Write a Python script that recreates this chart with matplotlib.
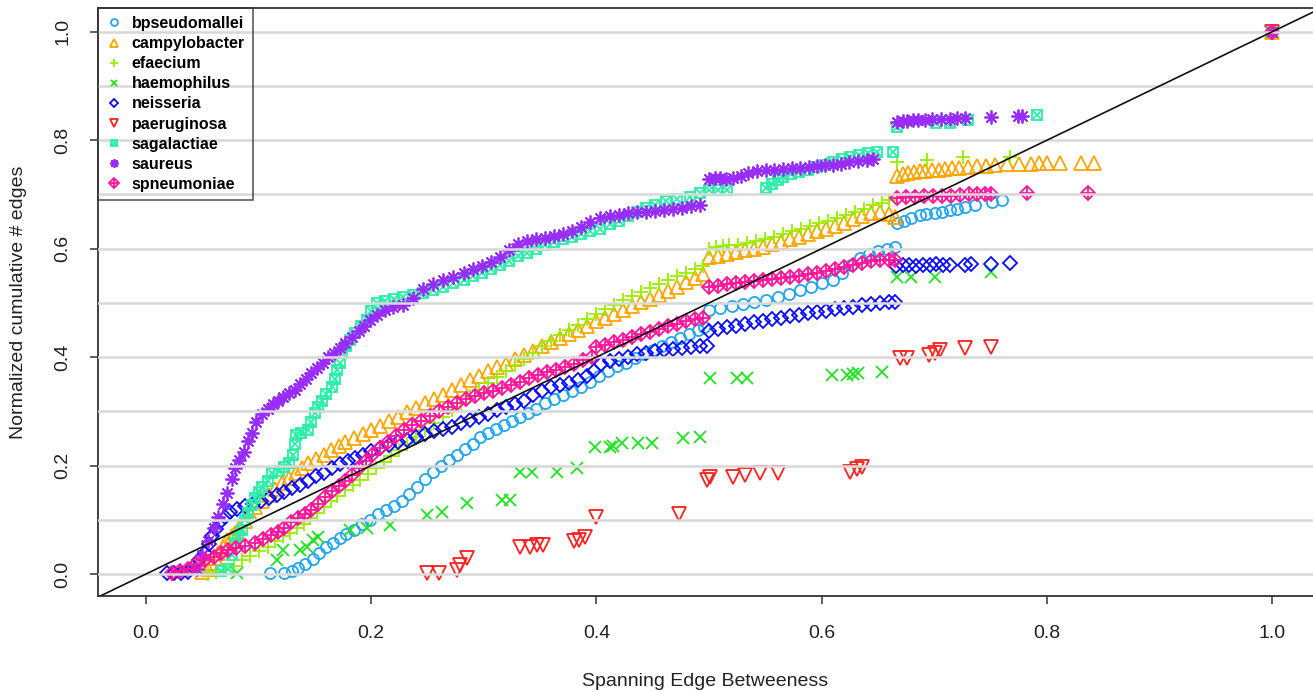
import numpy as np
import matplotlib
matplotlib.use("Agg")
from matplotlib import pyplot as plt
from matplotlib.legend_handler import HandlerTuple

plt.rcParams['font.family'] = ['Liberation Sans', 'DejaVu Sans']

# (spanning edge betweenness, normalized cumulative # edges)
bpseudomallei = [
    (0.110, 0.002), (0.123, 0.002), (0.130, 0.005), (0.135, 0.011), (0.141, 0.018),
    (0.148, 0.028), (0.154, 0.038), (0.160, 0.050), (0.166, 0.058), (0.172, 0.066),
    (0.178, 0.074), (0.185, 0.082), (0.192, 0.092), (0.199, 0.100), (0.206, 0.110),
    (0.213, 0.118), (0.220, 0.125), (0.227, 0.135), (0.234, 0.148), (0.241, 0.160),
    (0.248, 0.175), (0.255, 0.188), (0.262, 0.200), (0.269, 0.210), (0.276, 0.220),
    (0.283, 0.230), (0.290, 0.240), (0.297, 0.252), (0.304, 0.260), (0.311, 0.267),
    (0.318, 0.275), (0.325, 0.282), (0.332, 0.290), (0.339, 0.297), (0.346, 0.305),
    (0.354, 0.315), (0.362, 0.323), (0.370, 0.330), (0.378, 0.338), (0.386, 0.345),
    (0.394, 0.355), (0.402, 0.365), (0.410, 0.375), (0.418, 0.383), (0.426, 0.390),
    (0.434, 0.398), (0.442, 0.406), (0.450, 0.414), (0.458, 0.421), (0.466, 0.428),
    (0.474, 0.436), (0.482, 0.443), (0.490, 0.450), (0.496, 0.455),
    (0.500, 0.487), (0.510, 0.490), (0.520, 0.494), (0.530, 0.498), (0.540, 0.502),
    (0.551, 0.506), (0.561, 0.511), (0.571, 0.517), (0.581, 0.523), (0.591, 0.530),
    (0.600, 0.536), (0.610, 0.543), (0.618, 0.556), (0.626, 0.570), (0.634, 0.582),
    (0.642, 0.590), (0.650, 0.595), (0.658, 0.600), (0.665, 0.603),
    (0.667, 0.648), (0.673, 0.652), (0.679, 0.657), (0.687, 0.662), (0.693, 0.664),
    (0.701, 0.666), (0.707, 0.668), (0.714, 0.672), (0.720, 0.674), (0.727, 0.677),
    (0.736, 0.681), (0.751, 0.686), (0.760, 0.690), (1.000, 1.000),
]

campylobacter = [
    (0.050, 0.004), (0.055, 0.010), (0.058, 0.020), (0.061, 0.030), (0.064, 0.039),
    (0.068, 0.050), (0.072, 0.062), (0.076, 0.070), (0.079, 0.075), (0.083, 0.085),
    (0.088, 0.097), (0.092, 0.110), (0.097, 0.124), (0.103, 0.135), (0.109, 0.146),
    (0.115, 0.157), (0.121, 0.168), (0.127, 0.177), (0.133, 0.187), (0.139, 0.196),
    (0.144, 0.205), (0.151, 0.213), (0.158, 0.220), (0.164, 0.228), (0.171, 0.236),
    (0.177, 0.243), (0.185, 0.250), (0.193, 0.258), (0.200, 0.265), (0.208, 0.273),
    (0.216, 0.282), (0.224, 0.290), (0.232, 0.298), (0.240, 0.306), (0.248, 0.315),
    (0.256, 0.323), (0.264, 0.331), (0.272, 0.339), (0.280, 0.348), (0.288, 0.357),
    (0.296, 0.366), (0.304, 0.374), (0.312, 0.381), (0.320, 0.388), (0.328, 0.396),
    (0.336, 0.404), (0.344, 0.412), (0.352, 0.420), (0.360, 0.428), (0.368, 0.435),
    (0.376, 0.442), (0.384, 0.450), (0.392, 0.457), (0.400, 0.466), (0.408, 0.473),
    (0.416, 0.480), (0.424, 0.487), (0.432, 0.494), (0.440, 0.501), (0.448, 0.508),
    (0.456, 0.515), (0.464, 0.522), (0.472, 0.530), (0.480, 0.538), (0.488, 0.546),
    (0.495, 0.553),
    (0.500, 0.585), (0.508, 0.587), (0.516, 0.590), (0.524, 0.594), (0.532, 0.597),
    (0.540, 0.600), (0.548, 0.604), (0.556, 0.608), (0.564, 0.612), (0.572, 0.617),
    (0.580, 0.622), (0.588, 0.627), (0.596, 0.632), (0.604, 0.637), (0.612, 0.642),
    (0.620, 0.648), (0.628, 0.654), (0.636, 0.660), (0.644, 0.666), (0.652, 0.668),
    (0.660, 0.664), (0.665, 0.658),
    (0.667, 0.735), (0.672, 0.738), (0.677, 0.740), (0.682, 0.742), (0.687, 0.743),
    (0.692, 0.744), (0.698, 0.745), (0.704, 0.746), (0.710, 0.747), (0.716, 0.748),
    (0.722, 0.749), (0.730, 0.750), (0.738, 0.752), (0.746, 0.752), (0.754, 0.754),
    (0.765, 0.756), (0.775, 0.757), (0.786, 0.757), (0.793, 0.758), (0.800, 0.758),
    (0.812, 0.758), (0.830, 0.758), (0.842, 0.758), (1.000, 1.000),
]

efaecium = [
    (0.055, 0.000), (0.062, 0.003), (0.070, 0.008), (0.078, 0.015), (0.085, 0.026),
    (0.092, 0.033), (0.100, 0.042), (0.108, 0.050), (0.115, 0.060), (0.122, 0.070),
    (0.128, 0.076), (0.134, 0.084), (0.140, 0.093), (0.146, 0.103), (0.152, 0.113),
    (0.158, 0.124), (0.164, 0.134), (0.170, 0.144), (0.177, 0.155), (0.184, 0.165),
    (0.190, 0.174), (0.197, 0.185), (0.204, 0.196), (0.211, 0.207), (0.218, 0.218),
    (0.225, 0.229), (0.232, 0.240), (0.240, 0.252), (0.248, 0.265), (0.256, 0.278),
    (0.264, 0.290), (0.272, 0.303), (0.280, 0.315), (0.288, 0.328), (0.296, 0.340),
    (0.304, 0.352), (0.312, 0.363), (0.320, 0.374), (0.328, 0.385), (0.336, 0.396),
    (0.344, 0.408), (0.352, 0.420), (0.360, 0.430), (0.368, 0.440), (0.376, 0.450),
    (0.384, 0.460), (0.392, 0.470), (0.400, 0.480), (0.408, 0.488), (0.416, 0.496),
    (0.424, 0.505), (0.432, 0.513), (0.440, 0.520), (0.448, 0.528), (0.456, 0.535),
    (0.464, 0.543), (0.472, 0.550), (0.480, 0.556), (0.488, 0.562), (0.495, 0.568),
    (0.500, 0.600), (0.506, 0.603), (0.512, 0.605), (0.518, 0.606), (0.526, 0.607),
    (0.534, 0.610), (0.542, 0.614), (0.550, 0.618), (0.558, 0.622), (0.566, 0.627),
    (0.574, 0.632), (0.582, 0.637), (0.590, 0.642), (0.598, 0.647), (0.606, 0.652),
    (0.614, 0.657), (0.622, 0.662), (0.630, 0.668), (0.638, 0.674), (0.646, 0.680),
    (0.654, 0.685), (0.660, 0.690),
    (0.667, 0.760), (0.694, 0.764), (0.726, 0.770), (0.767, 0.770), (1.000, 1.000),
]

haemophilus = [
    (0.081, 0.002), (0.116, 0.026), (0.122, 0.044), (0.137, 0.044), (0.143, 0.050),
    (0.148, 0.063), (0.153, 0.068), (0.181, 0.081), (0.196, 0.085), (0.217, 0.090),
    (0.250, 0.109), (0.263, 0.114), (0.285, 0.131), (0.316, 0.137), (0.323, 0.137),
    (0.332, 0.188), (0.343, 0.188), (0.365, 0.188), (0.383, 0.195), (0.399, 0.234),
    (0.412, 0.234), (0.415, 0.236), (0.423, 0.242), (0.437, 0.242), (0.449, 0.242),
    (0.477, 0.251), (0.492, 0.253), (0.501, 0.362), (0.525, 0.362), (0.534, 0.362),
    (0.609, 0.367), (0.623, 0.367), (0.628, 0.369), (0.632, 0.371), (0.654, 0.373),
    (0.667, 0.548), (0.679, 0.548), (0.701, 0.548), (0.750, 0.557), (1.000, 1.000),
]

neisseria = [
    (0.019, 0.002), (0.025, 0.002), (0.031, 0.002), (0.037, 0.003), (0.042, 0.012),
    (0.047, 0.025), (0.052, 0.039), (0.056, 0.055), (0.059, 0.070), (0.062, 0.083),
    (0.066, 0.095), (0.070, 0.106), (0.075, 0.115), (0.081, 0.120), (0.088, 0.125),
    (0.095, 0.130), (0.102, 0.135), (0.109, 0.140), (0.116, 0.146), (0.123, 0.152),
    (0.130, 0.158), (0.137, 0.165), (0.144, 0.172), (0.151, 0.180), (0.158, 0.187),
    (0.165, 0.195), (0.172, 0.202), (0.179, 0.208), (0.186, 0.214), (0.193, 0.220),
    (0.200, 0.226), (0.208, 0.232), (0.216, 0.238), (0.224, 0.243), (0.232, 0.248),
    (0.240, 0.253), (0.248, 0.258), (0.256, 0.263), (0.264, 0.267), (0.272, 0.272),
    (0.280, 0.278), (0.288, 0.284), (0.296, 0.290), (0.304, 0.296), (0.312, 0.302),
    (0.320, 0.308), (0.328, 0.314), (0.336, 0.320), (0.344, 0.330), (0.352, 0.338),
    (0.360, 0.344), (0.368, 0.348), (0.376, 0.352), (0.384, 0.357), (0.392, 0.365),
    (0.398, 0.375), (0.404, 0.387), (0.412, 0.392), (0.420, 0.397), (0.428, 0.401),
    (0.436, 0.405), (0.444, 0.408), (0.452, 0.411), (0.460, 0.413), (0.468, 0.415),
    (0.476, 0.417), (0.484, 0.419), (0.492, 0.420), (0.498, 0.421),
    (0.500, 0.448), (0.508, 0.452), (0.516, 0.455), (0.524, 0.458), (0.532, 0.461),
    (0.540, 0.464), (0.548, 0.467), (0.556, 0.470), (0.564, 0.473), (0.572, 0.476),
    (0.580, 0.478), (0.588, 0.481), (0.596, 0.483), (0.604, 0.486), (0.612, 0.488),
    (0.620, 0.491), (0.628, 0.493), (0.636, 0.496), (0.644, 0.498), (0.652, 0.500),
    (0.660, 0.501), (0.665, 0.502),
    (0.666, 0.568), (0.672, 0.570), (0.678, 0.570), (0.684, 0.569), (0.690, 0.570),
    (0.696, 0.570), (0.702, 0.571), (0.708, 0.570), (0.714, 0.570), (0.727, 0.570),
    (0.733, 0.571), (0.750, 0.571), (0.767, 0.574), (1.000, 1.000),
]

paeruginosa = [
    (0.250, 0.002), (0.260, 0.002), (0.276, 0.007), (0.279, 0.017), (0.285, 0.030),
    (0.332, 0.050), (0.341, 0.050), (0.347, 0.053), (0.353, 0.053), (0.380, 0.060),
    (0.385, 0.063), (0.390, 0.068), (0.400, 0.105), (0.473, 0.110), (0.498, 0.173),
    (0.501, 0.179), (0.521, 0.179), (0.532, 0.183), (0.545, 0.186), (0.561, 0.186),
    (0.625, 0.188), (0.631, 0.194), (0.636, 0.197), (0.670, 0.399), (0.676, 0.399),
    (0.695, 0.404), (0.701, 0.408), (0.705, 0.413), (0.727, 0.417), (0.750, 0.419),
    (1.000, 1.000),
]

sagalactiae = [
    (0.067, 0.005), (0.073, 0.010), (0.076, 0.035), (0.079, 0.057), (0.082, 0.070),
    (0.085, 0.082), (0.088, 0.100), (0.091, 0.113), (0.094, 0.127), (0.097, 0.140),
    (0.100, 0.152), (0.103, 0.161), (0.108, 0.172), (0.112, 0.186), (0.118, 0.190),
    (0.123, 0.197), (0.127, 0.205), (0.131, 0.220), (0.132, 0.240), (0.133, 0.256),
    (0.138, 0.260), (0.144, 0.266), (0.147, 0.280), (0.150, 0.297), (0.153, 0.308),
    (0.156, 0.320), (0.160, 0.332), (0.165, 0.345), (0.168, 0.360), (0.170, 0.376),
    (0.172, 0.390), (0.174, 0.408), (0.178, 0.420), (0.181, 0.432), (0.186, 0.445),
    (0.191, 0.458), (0.196, 0.469), (0.200, 0.485), (0.205, 0.500), (0.212, 0.504),
    (0.220, 0.508), (0.228, 0.511), (0.237, 0.514), (0.246, 0.518), (0.255, 0.524),
    (0.264, 0.530), (0.273, 0.536), (0.282, 0.542), (0.290, 0.550), (0.298, 0.556),
    (0.306, 0.563), (0.314, 0.570), (0.322, 0.578), (0.330, 0.586), (0.338, 0.593),
    (0.346, 0.600), (0.354, 0.607), (0.362, 0.613), (0.370, 0.618), (0.378, 0.622),
    (0.386, 0.627), (0.394, 0.632), (0.403, 0.637), (0.412, 0.645), (0.420, 0.652),
    (0.428, 0.660), (0.436, 0.668), (0.444, 0.675), (0.452, 0.680), (0.462, 0.688),
    (0.472, 0.692), (0.483, 0.696), (0.492, 0.702), (0.500, 0.708), (0.508, 0.708),
    (0.516, 0.708),
    (0.551, 0.712), (0.556, 0.720), (0.561, 0.726), (0.566, 0.733), (0.573, 0.737),
    (0.580, 0.741), (0.588, 0.746), (0.596, 0.751), (0.603, 0.755), (0.610, 0.760),
    (0.618, 0.765), (0.625, 0.770), (0.633, 0.773), (0.641, 0.776), (0.649, 0.779),
    (0.663, 0.779),
    (0.667, 0.825), (0.702, 0.832), (0.714, 0.832), (0.730, 0.838), (0.791, 0.847),
    (1.000, 1.000),
]

saureus = [
    (0.045, 0.010), (0.050, 0.035), (0.055, 0.060), (0.060, 0.085), (0.064, 0.105),
    (0.068, 0.130), (0.072, 0.150), (0.076, 0.175), (0.079, 0.195), (0.083, 0.210),
    (0.087, 0.225), (0.091, 0.245), (0.094, 0.260), (0.098, 0.280), (0.103, 0.295),
    (0.108, 0.305), (0.113, 0.313), (0.117, 0.320), (0.122, 0.327), (0.127, 0.333),
    (0.132, 0.340), (0.137, 0.350), (0.142, 0.360), (0.147, 0.370), (0.152, 0.380),
    (0.157, 0.390), (0.162, 0.400), (0.167, 0.408), (0.172, 0.417), (0.177, 0.426),
    (0.183, 0.437), (0.189, 0.448), (0.194, 0.458), (0.199, 0.468), (0.205, 0.478),
    (0.212, 0.487), (0.219, 0.492), (0.228, 0.497), (0.237, 0.510), (0.246, 0.525),
    (0.255, 0.535), (0.264, 0.542), (0.273, 0.548), (0.282, 0.555), (0.290, 0.562),
    (0.298, 0.568), (0.306, 0.575), (0.314, 0.585), (0.322, 0.597), (0.330, 0.608),
    (0.338, 0.614), (0.346, 0.617), (0.354, 0.620), (0.362, 0.623), (0.370, 0.627),
    (0.378, 0.632), (0.386, 0.640), (0.394, 0.650), (0.403, 0.657), (0.412, 0.660),
    (0.420, 0.663), (0.428, 0.665), (0.436, 0.667), (0.444, 0.668), (0.452, 0.670),
    (0.460, 0.672), (0.468, 0.674), (0.476, 0.676), (0.484, 0.678), (0.492, 0.680),
    (0.500, 0.728), (0.505, 0.730), (0.510, 0.730), (0.515, 0.728), (0.521, 0.730),
    (0.528, 0.735), (0.535, 0.740), (0.543, 0.743), (0.551, 0.745), (0.558, 0.746),
    (0.566, 0.747), (0.574, 0.748), (0.581, 0.749), (0.589, 0.751), (0.596, 0.752),
    (0.603, 0.754), (0.610, 0.755), (0.617, 0.757), (0.624, 0.760), (0.632, 0.762),
    (0.640, 0.764), (0.646, 0.765),
    (0.667, 0.834), (0.672, 0.836), (0.676, 0.836), (0.681, 0.838), (0.686, 0.838),
    (0.692, 0.838), (0.698, 0.840), (0.706, 0.840), (0.714, 0.840), (0.720, 0.842),
    (0.727, 0.842), (0.750, 0.843), (0.774, 0.845), (0.778, 0.845), (1.000, 1.000),
]

spneumoniae = [
    (0.023, 0.002), (0.030, 0.005), (0.037, 0.010), (0.044, 0.018), (0.052, 0.025),
    (0.060, 0.032), (0.067, 0.038), (0.073, 0.044), (0.080, 0.048), (0.088, 0.052),
    (0.097, 0.057), (0.104, 0.064), (0.111, 0.071), (0.117, 0.077), (0.123, 0.085),
    (0.129, 0.095), (0.135, 0.104), (0.141, 0.110), (0.147, 0.118), (0.153, 0.130),
    (0.159, 0.142), (0.165, 0.153), (0.171, 0.163), (0.177, 0.172), (0.183, 0.183),
    (0.189, 0.196), (0.195, 0.208), (0.201, 0.220), (0.208, 0.232), (0.215, 0.243),
    (0.222, 0.255), (0.229, 0.266), (0.236, 0.275), (0.244, 0.283), (0.252, 0.292),
    (0.260, 0.300), (0.268, 0.308), (0.276, 0.316), (0.284, 0.323), (0.292, 0.328),
    (0.300, 0.333), (0.308, 0.338), (0.316, 0.343), (0.324, 0.349), (0.332, 0.355),
    (0.340, 0.362), (0.348, 0.367), (0.356, 0.372), (0.364, 0.377), (0.372, 0.382),
    (0.380, 0.388), (0.388, 0.394), (0.396, 0.400),
    (0.400, 0.418), (0.408, 0.423), (0.416, 0.428), (0.424, 0.432), (0.432, 0.437),
    (0.440, 0.442), (0.448, 0.447), (0.456, 0.452), (0.464, 0.457), (0.472, 0.462),
    (0.480, 0.466), (0.488, 0.470), (0.495, 0.472),
    (0.500, 0.530), (0.508, 0.532), (0.516, 0.534), (0.524, 0.536), (0.532, 0.538),
    (0.540, 0.540), (0.548, 0.542), (0.556, 0.544), (0.564, 0.546), (0.572, 0.548),
    (0.580, 0.550), (0.588, 0.553), (0.596, 0.556), (0.604, 0.559), (0.612, 0.562),
    (0.620, 0.566), (0.628, 0.570), (0.636, 0.574), (0.644, 0.577), (0.652, 0.579),
    (0.660, 0.580), (0.665, 0.580),
    (0.667, 0.694), (0.675, 0.695), (0.683, 0.696), (0.691, 0.697), (0.699, 0.697),
    (0.707, 0.698), (0.715, 0.698), (0.723, 0.699), (0.731, 0.700), (0.738, 0.700),
    (0.745, 0.700), (0.750, 0.700), (0.782, 0.703), (0.837, 0.703), (1.000, 1.000),
]

names = ["bpseudomallei", "campylobacter", "efaecium", "haemophilus", "neisseria",
         "paeruginosa", "sagalactiae", "saureus", "spneumoniae"]
series = [bpseudomallei, campylobacter, efaecium, haemophilus, neisseria,
          paeruginosa, sagalactiae, saureus, spneumoniae]
colors = ["#22A5F0", "#FFA500", "#9AEE00", "#1FE31F", "#0A0AFF",
          "#FF2020", "#2BEEA8", "#9A2BFF", "#FF149B"]
# R pch 1..9 equivalents; several symbols are drawn on top of each other
markers = [[("o", 8)], [("^", 9.5)], [("+", 9.5)], [("x", 8)], [("D", 7)],
           [("v", 9.5)], [("s", 7.5), ("x", 7.5)], [((8, 2, 0), 10)],
           [("D", 7.5), ("+", 9.5)]]

fig = plt.figure(figsize=(13.13, 6.92), dpi=100)
ax = fig.add_axes([98 / 1313, 96 / 692, 1215 / 1313, 588 / 692])

handles = []
for name, pts, col, mk in zip(names, series, colors, markers):
    arr = np.array(pts)
    parts = []
    for m, ms in mk:
        ln, = ax.plot(arr[:, 0], arr[:, 1], linestyle="none", marker=m,
                      markersize=ms, markerfacecolor="none",
                      markeredgecolor=col, markeredgewidth=1.3, zorder=2)
        parts.append(ln)
    handles.append(tuple(parts))

# light horizontal grid, drawn over the points like the original
for g in np.arange(0.0, 1.01, 0.1):
    ax.axhline(g, color="#D8D8D8", linewidth=1.8, zorder=3)

ax.axline((0, 0), (1, 1), color="#111111", linewidth=1.2, zorder=4)

ax.set_xlim(-0.0426, 1.0364)
ax.set_ylim(-0.0406, 1.044)

ax.set_xticks([0.0, 0.2, 0.4, 0.6, 0.8, 1.0])
ax.set_xticklabels(["0.0", "0.2", "0.4", "0.6", "0.8", "1.0"])
ax.set_yticks([0.0, 0.2, 0.4, 0.6, 0.8, 1.0])
ax.set_yticklabels(["0.0", "0.2", "0.4", "0.6", "0.8", "1.0"],
                   rotation=90, va="center")
ax.tick_params(axis="both", direction="out", length=6, width=1.1,
               color="#333333", labelsize=14, labelcolor="#222222")
ax.tick_params(axis="x", pad=15)
ax.tick_params(axis="y", pad=13)

for side in ["left", "top", "bottom"]:
    ax.spines[side].set_color("#333333")
    ax.spines[side].set_linewidth(1.3)
ax.spines["right"].set_visible(False)

ax.set_xlabel("Spanning Edge Betweeness", fontsize=14, color="#222222", labelpad=22)
ax.set_ylabel("Normalized cumulative # edges", fontsize=14, color="#222222", labelpad=20)

leg = ax.legend(handles, names, loc="upper left", bbox_to_anchor=(0, 1),
                borderaxespad=0, handler_map={tuple: HandlerTuple(ndivide=1, pad=0)},
                markerscale=0.62, handlelength=1.0, handletextpad=0.6,
                labelspacing=0.32, borderpad=0.5, fancybox=False,
                prop={"weight": "bold", "size": 11.5})
leg.get_frame().set_edgecolor("#333333")
leg.get_frame().set_linewidth(1.2)
leg.get_frame().set_facecolor("none")
leg.set_zorder(5)

fig.savefig("out.png", dpi=100)
